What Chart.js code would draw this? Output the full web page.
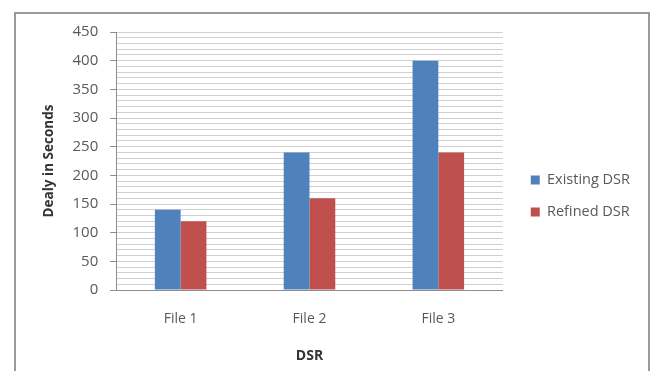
<!DOCTYPE html>
<html>
<head>
<meta charset="utf-8">
<script src="https://cdn.jsdelivr.net/npm/chart.js@4.4.1/dist/chart.umd.min.js"></script>
<style>
  html, body { margin: 0; padding: 0; background: #ffffff; overflow: hidden; }
  #frame {
    position: absolute; left: 14px; top: 12px; width: 636px; height: 380px;
    border: 2px solid #9a9a9a; border-bottom: none; box-sizing: border-box;
  }
  #c { position: absolute; left: 0; top: 0; }
</style>
</head>
<body>
<div id="frame"></div>
<canvas id="c" width="657" height="371"></canvas>
<script>
// Delay per file, in seconds
const categories = ['File 1', 'File 2', 'File 3'];
const existingDSR = [140, 240, 400];
const refinedDSR = [120, 160, 240];
const seriesNames = ['Existing DSR', 'Refined DSR'];
const yTickLabels = [0, 50, 100, 150, 200, 250, 300, 350, 400, 450];
const xAxisTitle = 'DSR';
const yAxisTitle = 'Dealy in Seconds';

const FONT = "'Open Sans', 'Liberation Sans', sans-serif";

new Chart(document.getElementById('c'), {
  type: 'bar',
  data: {
    labels: categories,
    datasets: [
      { label: seriesNames[0], data: existingDSR, backgroundColor: '#4F81BD', borderWidth: 0 },
      { label: seriesNames[1], data: refinedDSR, backgroundColor: '#C0504D', borderWidth: 0 }
    ]
  },
  options: {
    responsive: false,
    animation: false,
    devicePixelRatio: 1,
    layout: { padding: { top: 32, bottom: 11, left: 30, right: 17 } },
    datasets: { bar: { categoryPercentage: 0.4, barPercentage: 1.0 } },
    plugins: {
      tooltip: { enabled: false },
      legend: {
        position: 'right',
        align: 'center',
        labels: {
          boxWidth: 9,
          boxHeight: 9,
          padding: 17.5,
          color: '#595959',
          font: { family: FONT, size: 14.5 }
        }
      }
    },
    scales: {
      x: {
        grid: { display: true, drawOnChartArea: false, drawTicks: false },
        border: { display: true, color: '#8c8c8c', width: 1 },
        ticks: { color: '#595959', padding: 21, font: { family: FONT, size: 14 } },
        title: {
          display: true,
          text: xAxisTitle,
          color: '#333333',
          padding: { top: 2.8, bottom: 0 },
          font: { family: FONT, size: 14, weight: 'bold', lineHeight: 0.6 }
        }
      },
      y: {
        min: 0,
        max: 450,
        grid: {
          color: '#cfcfcf',
          lineWidth: 1,
          tickLength: 6,
          tickColor: (ctx) => (ctx.tick && ctx.tick.value % 50 === 0) ? '#8c8c8c' : 'rgba(0,0,0,0)'
        },
        border: { display: true, color: '#8c8c8c', width: 1 },
        ticks: {
          stepSize: 10,
          autoSkip: false,
          padding: 12,
          color: '#595959',
          font: { family: FONT, size: 15 },
          callback: (v) => yTickLabels.includes(v) ? String(v) : ''
        },
        title: {
          display: true,
          text: yAxisTitle,
          color: '#333333',
          padding: { top: 12, bottom: 5 },
          font: { family: FONT, size: 13.5, weight: 'bold', lineHeight: 1 }
        }
      },
      // hidden axis that only keeps a little room between the plot and the legend
      gap: {
        type: 'linear',
        position: 'right',
        display: false,
        afterFit: (scale) => { scale.width = 10.5; }
      }
    }
  }
});
</script>
</body>
</html>
